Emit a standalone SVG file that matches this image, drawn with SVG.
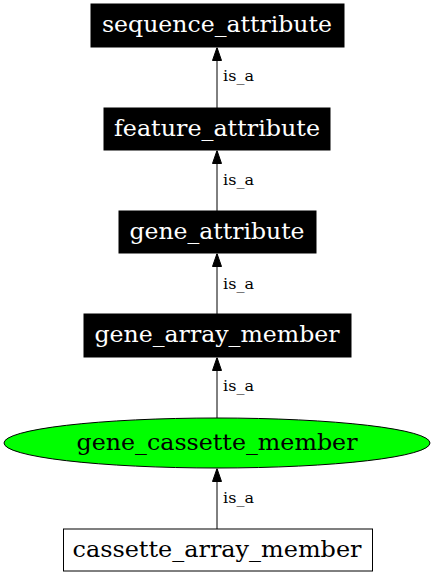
<svg xmlns="http://www.w3.org/2000/svg" width="435" height="576" viewBox="0 0 435 576">
<defs>
<style>
.nb rect{fill:#000;stroke:#000;stroke-width:1}
.nb text{fill:#fff}
.nt{font-family:"DejaVu Serif","Liberation Serif",serif;font-size:23px;text-anchor:middle}
.lb{font-family:"DejaVu Serif","Liberation Serif",serif;font-size:15px;fill:#000}
.e{stroke:#000;stroke-width:1;fill:none}
</style>
<marker id="ah" markerWidth="10" markerHeight="14" viewBox="0 0 10 14" refX="5" refY="0" orient="0" markerUnits="userSpaceOnUse">
<polygon points="5,0 0.5,13 9.5,13" fill="#000" stroke="#000" stroke-width="1"/>
</marker>
</defs>
<rect width="435" height="576" fill="#fff"/>
<g id="edges">
<g id="e1"><line class="e" x1="217" y1="108" x2="217" y2="47.5" marker-end="url(#ah)"/><text class="lb" x="223" y="81" textLength="31" lengthAdjust="spacingAndGlyphs">is_a</text></g>
<g id="e2"><line class="e" x1="217" y1="211" x2="217" y2="150.5" marker-end="url(#ah)"/><text class="lb" x="223" y="185" textLength="31" lengthAdjust="spacingAndGlyphs">is_a</text></g>
<g id="e3"><line class="e" x1="217" y1="314" x2="217" y2="253.5" marker-end="url(#ah)"/><text class="lb" x="223" y="289" textLength="31" lengthAdjust="spacingAndGlyphs">is_a</text></g>
<g id="e4"><line class="e" x1="217" y1="418" x2="217" y2="357.5" marker-end="url(#ah)"/><text class="lb" x="223" y="391" textLength="31" lengthAdjust="spacingAndGlyphs">is_a</text></g>
<g id="e5"><line class="e" x1="217" y1="529" x2="217" y2="468.5" marker-end="url(#ah)"/><text class="lb" x="223" y="503" textLength="31" lengthAdjust="spacingAndGlyphs">is_a</text></g>
</g>
<g id="sequence_attribute" class="nb"><rect x="91" y="4" width="253" height="43"/><text class="nt" x="217" y="32" textLength="230" lengthAdjust="spacingAndGlyphs">sequence_attribute</text></g>
<g id="feature_attribute" class="nb"><rect x="104" y="108" width="226" height="42"/><text class="nt" x="217" y="135.5" textLength="206" lengthAdjust="spacingAndGlyphs">feature_attribute</text></g>
<g id="gene_attribute" class="nb"><rect x="119" y="211" width="197" height="42"/><text class="nt" x="217" y="238.5" textLength="175" lengthAdjust="spacingAndGlyphs">gene_attribute</text></g>
<g id="gene_array_member" class="nb"><rect x="84" y="314" width="267" height="43"/><text class="nt" x="217" y="341.5" textLength="245" lengthAdjust="spacingAndGlyphs">gene_array_member</text></g>
<g id="gene_cassette_member"><ellipse cx="217" cy="443" rx="213" ry="25" fill="#00ff00" stroke="#000" stroke-width="1"/><text class="nt" x="217" y="449.5" textLength="281" lengthAdjust="spacingAndGlyphs">gene_cassette_member</text></g>
<g id="cassette_array_member"><rect x="63.5" y="529" width="309" height="42" fill="#fff" stroke="#000" stroke-width="1"/><text class="nt" x="217" y="556.5" textLength="289" lengthAdjust="spacingAndGlyphs">cassette_array_member</text></g>
</svg>
